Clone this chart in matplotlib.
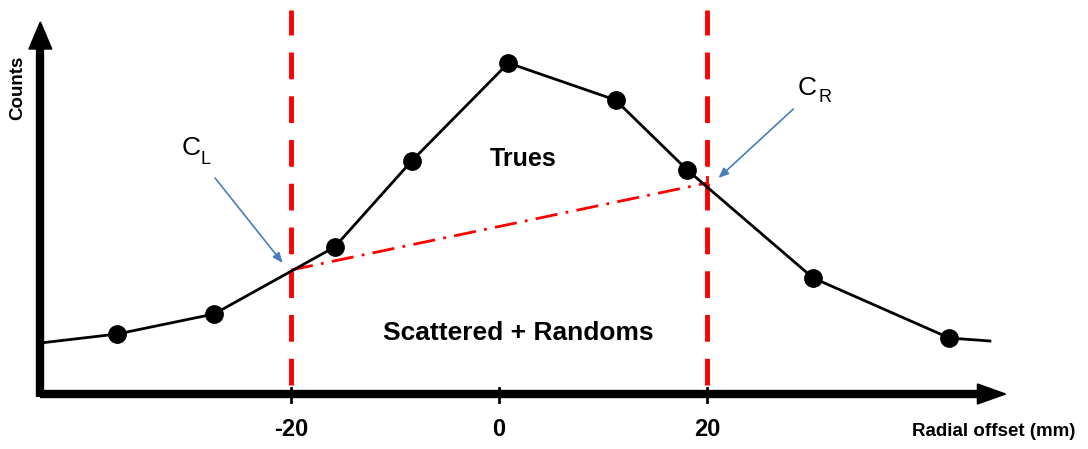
import matplotlib
matplotlib.use("Agg")
import matplotlib.pyplot as plt

plt.rcParams['font.family'] = ['Liberation Sans', 'DejaVu Sans']

# profile points (radial offset in mm, counts in arbitrary units)
offset = [-44.1, -36.7, -27.4, -15.8, -8.4, 0.9, 11.2, 18.1, 30.2, 43.3, 47.2]
counts = [51, 60, 80, 147, 233, 331, 294, 224, 116, 56, 53]
marked = [False, True, True, True, True, True, True, True, True, True, False]

tick_pos = [-20, 0, 20]
tick_lab = ['-20', '0', '20']
window = [-20, 20]
cl_cr = [124, 211]  # counts at the window edges (background line)

fig = plt.figure(figsize=(10.88, 4.49), dpi=100)
ax = fig.add_axes([0, 0, 1, 1])
ax.set_xlim(-47.98, 56.63)
ax.set_ylim(-55, 394)
ax.axis('off')

x0 = -44.1
# axes with arrow heads
ax.plot([x0, 46.0], [0, 0], color='black', lw=6, solid_capstyle='butt', zorder=3)
ax.plot([x0, x0], [-3, 345], color='black', lw=6, solid_capstyle='butt', zorder=3)
ax.fill([46.0, 48.7, 46.0], [10, 0, -10], color='black', zorder=3)
ax.fill([x0 - 1.1, x0, x0 + 1.1], [345, 372, 345], color='black', zorder=3)

for t, lab in zip(tick_pos, tick_lab):
    ax.plot([t, t], [-8, 6], color='black', lw=2, zorder=3)
    ax.text(t, -35, lab, ha='center', va='center', fontsize=17, fontweight='bold')

ax.text(47.6, -38, 'Radial offset (mm)', ha='center', va='center',
        fontsize=13.5, fontweight='bold')
ax.text(-46.25, 306, 'Counts', ha='center', va='center', rotation=90,
        fontsize=13.5, fontweight='bold')

# window edges
for w in window:
    ax.plot([w, w], [9, 384], color='red', lw=3.5, dashes=(5.5, 3.5), zorder=2)

# background estimate between C_L and C_R
ax.plot(window, cl_cr, color='red', lw=2, dashes=(8, 3, 1, 3), zorder=2)
ax.plot([20, 20], [cl_cr[1] - 6, cl_cr[1] + 6], color='red', lw=2, zorder=2)

# measured profile
ax.plot(offset, counts, color='black', lw=2, zorder=4)
mx = [o for o, m in zip(offset, marked) if m]
my = [c for c, m in zip(counts, marked) if m]
ax.plot(mx, my, 'o', color='black', ms=12.5, zorder=5)

ax.text(2.3, 235, 'Trues', ha='center', va='center', fontsize=18, fontweight='bold')
ax.text(1.9, 61, 'Scattered + Randoms', ha='center', va='center',
        fontsize=19, fontweight='bold')

# C_L and C_R labels
ax.text(-29.6, 246, 'C', ha='center', va='center', fontsize=19)
ax.text(-28.2, 235, 'L', ha='center', va='center', fontsize=13)
ax.text(29.6, 306, 'C', ha='center', va='center', fontsize=19)
ax.text(31.3, 296, 'R', ha='center', va='center', fontsize=13)

arrow = dict(arrowstyle='-|>,head_length=0.6,head_width=0.25', color='#4a7ebb',
             lw=1.2, shrinkA=0, shrinkB=0)
ax.annotate('', xy=(-20.8, 131), xytext=(-27.3, 216), arrowprops=arrow)
ax.annotate('', xy=(21.1, 216), xytext=(28.3, 285), arrowprops=arrow)

fig.savefig('out.png', dpi=100)
